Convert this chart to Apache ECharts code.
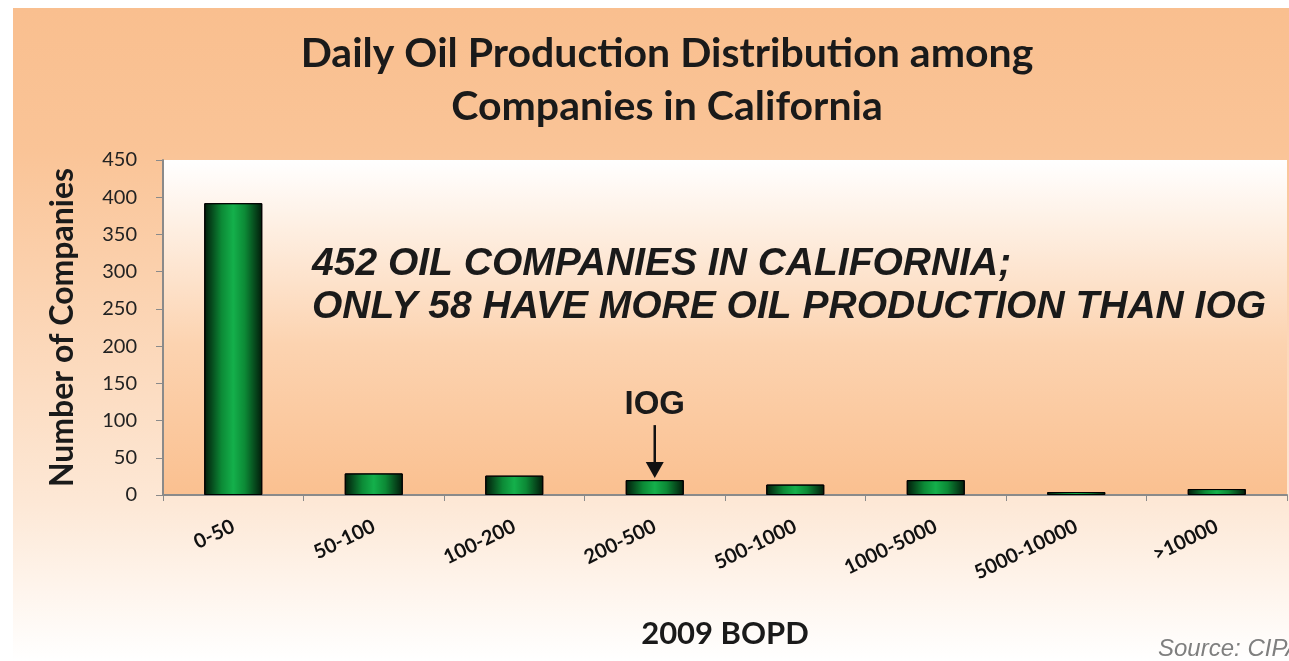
<!DOCTYPE html>
<html>
<head>
<meta charset="utf-8">
<script src="https://cdn.jsdelivr.net/npm/echarts@6/dist/echarts.min.js"></script>
<style>
  html, body { margin: 0; padding: 0; background: #fff; overflow: hidden; }
  #main { position: absolute; left: 13px; top: 8px; width: 1276px; height: 653px; }
</style>
</head>
<body>
<div id="main"></div>
<script>
var categories = ['0-50', '50-100', '100-200', '200-500', '500-1000', '1000-5000', '5000-10000', '>10000'];
var companies = [392, 29, 26, 20, 14, 20, 4, 8];
var yTicks = [0, 50, 100, 150, 200, 250, 300, 350, 400, 450];
var iogCategory = '200-500';

var dom = document.getElementById('main');
var myChart = echarts.init(dom);

var barColor = {
    type: 'linear', x: 0, y: 0, x2: 1, y2: 0,
    colorStops: [
        { offset: 0, color: '#021a0a' },
        { offset: 0.3, color: '#0c8a36' },
        { offset: 0.5, color: '#14b04b' },
        { offset: 0.7, color: '#0c8a36' },
        { offset: 1, color: '#021a0a' }
    ]
};

var option = {
    backgroundColor: {
        type: 'linear', x: 0, y: 0, x2: 0, y2: 1,
        colorStops: [
            { offset: 0, color: '#f9bf8f' },
            { offset: 0.22, color: '#fac497' },
            { offset: 0.76, color: '#fde8d6' },
            { offset: 1, color: '#ffffff' }
        ]
    },
    textStyle: { fontFamily: 'Lato' },
    title: {
        text: 'Daily Oil Production Distribution among\nCompanies in California',
        left: 649,
        top: 14,
        textAlign: 'center',
        textStyle: {
            fontFamily: 'Lato', fontWeight: 'bold', fontSize: 41,
            color: '#1a1a1a', lineHeight: 53
        }
    },
    grid: {
        left: 150, right: 2, top: 152, bottom: 166,
        show: true, borderWidth: 0,
        backgroundColor: {
            type: 'linear', x: 0, y: 0, x2: 0, y2: 1,
            colorStops: [
                { offset: 0, color: '#ffffff' },
                { offset: 0.55, color: '#fcd3b0' },
                { offset: 1, color: '#fac090' }
            ]
        }
    },
    xAxis: {
        type: 'category',
        data: categories,
        name: '2009 BOPD',
        nameLocation: 'middle',
        nameGap: 123,
        nameTextStyle: { fontFamily: 'Lato', fontWeight: 'bold', fontSize: 31, color: '#1a1a1a' },
        axisLine: { lineStyle: { color: '#8a8a8a', width: 2 } },
        axisTick: { show: true, length: 6, lineStyle: { color: '#8a8a8a' } },
        axisLabel: {
            rotate: 26, margin: 30, fontWeight: 'bold', fontSize: 20,
            color: '#111', fontFamily: 'Lato'
        }
    },
    yAxis: {
        type: 'value',
        min: 0, max: 450, interval: 50,
        name: 'Number of Companies',
        nameLocation: 'middle',
        nameGap: 84,
        nameTextStyle: { fontFamily: 'Lato', fontWeight: 'bold', fontSize: 32, color: '#1a1a1a' },
        axisLine: { show: true, lineStyle: { color: '#8a8a8a', width: 2 } },
        axisTick: { show: true, length: 7, lineStyle: { color: '#8a8a8a' } },
        splitLine: { show: false },
        axisLabel: {
            fontSize: 20, color: '#222', margin: 26, fontFamily: 'Lato',
            formatter: function (v) { return yTicks.indexOf(v) >= 0 ? String(v) : ''; }
        }
    },
    series: [{
        name: 'Companies',
        type: 'bar',
        data: companies,
        barWidth: 58,
        itemStyle: { color: barColor, borderColor: '#000', borderWidth: 1 }
    }]
};

myChart.setOption(option, true);

// annotations placed from the axis scale
function drawNotes() {
    var idx = categories.indexOf(iogCategory);
    var p = myChart.convertToPixel({ xAxisIndex: 0, yAxisIndex: 0 }, [idx, companies[idx]]);
    var x = p[0], y = p[1];
    myChart.setOption({
        graphic: [
            {
                type: 'text', left: 299, top: 235,
                style: {
                    text: '452 OIL COMPANIES IN CALIFORNIA;\nONLY 58 HAVE MORE OIL PRODUCTION THAN IOG',
                    font: 'italic bold 39px "Liberation Sans", Arial',
                    fill: '#1a1a1a', lineHeight: 43
                }
            },
            {
                type: 'text', x: x, y: y - 59,
                style: {
                    text: 'IOG', font: 'bold 33px "Liberation Sans", Arial', fill: '#1a1a1a',
                    align: 'center', verticalAlign: 'bottom'
                }
            },
            {
                type: 'line',
                shape: { x1: x, y1: y - 55, x2: x, y2: y - 14 },
                style: { stroke: '#111', lineWidth: 2.5 }
            },
            {
                type: 'polygon',
                shape: { points: [[x - 9, y - 18], [x + 9, y - 18], [x, y - 2]] },
                style: { fill: '#111' }
            },
            {
                type: 'text', left: 1145, top: 629,
                style: {
                    text: 'Source: CIPA',
                    font: 'italic 24px "Liberation Sans", Arial',
                    fill: '#7f7f7f'
                }
            }
        ]
    });
}
drawNotes();

window.onresize = function () {
    myChart.resize();
    drawNotes();
};
</script>
</body>
</html>
